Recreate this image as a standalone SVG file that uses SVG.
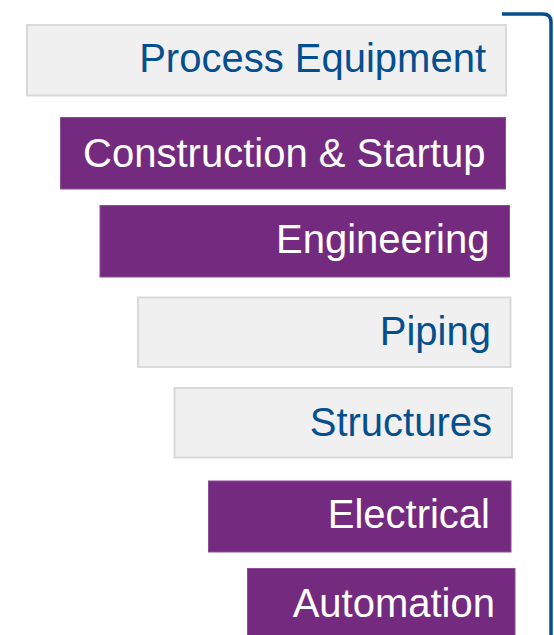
<svg xmlns="http://www.w3.org/2000/svg" width="554" height="635" viewBox="0 0 554 635">
<style>
.g rect{fill:#F0F0F0;stroke:#D9D9D9;stroke-width:2}
.p rect{fill:#742A7F;stroke:#8B4D95;stroke-width:1}
text{font-family:"Liberation Sans",Arial,sans-serif;font-size:40px;text-anchor:end}
.g text{fill:#064F8F}
.p text{fill:#FFFFFF}
.conn{fill:none;stroke:#064F8F;stroke-width:3.5}
</style>
<rect width="554" height="635" fill="#FFFFFF"/>
<g id="connectors">
<path class="conn" d="M502,14 L543,14 Q551,14 551,22 L551,635"/>
</g>
<g id="process-equipment" class="g"><rect x="27" y="25" width="479" height="70.5"/><text x="486" y="72.3">Process Equipment</text></g>
<g id="construction-startup" class="p"><rect x="60.5" y="117.5" width="445" height="71.5"/><text x="485.5" y="166.7">Construction &amp; Startup</text></g>
<g id="engineering" class="p"><rect x="100" y="205.5" width="409.5" height="71.5"/><text x="489.5" y="253.3">Engineering</text></g>
<g id="piping" class="g"><rect x="138" y="297.5" width="372.5" height="69.5"/><text x="491" y="345">Piping</text></g>
<g id="structures" class="g"><rect x="174.5" y="388" width="337.5" height="69.5"/><text x="492" y="435.7">Structures</text></g>
<g id="electrical" class="p"><rect x="208.5" y="481" width="302.5" height="71"/><text x="490" y="528">Electrical</text></g>
<g id="automation" class="p"><rect x="247.5" y="568.5" width="267.5" height="70"/><text x="495" y="617">Automation</text></g>
</svg>
